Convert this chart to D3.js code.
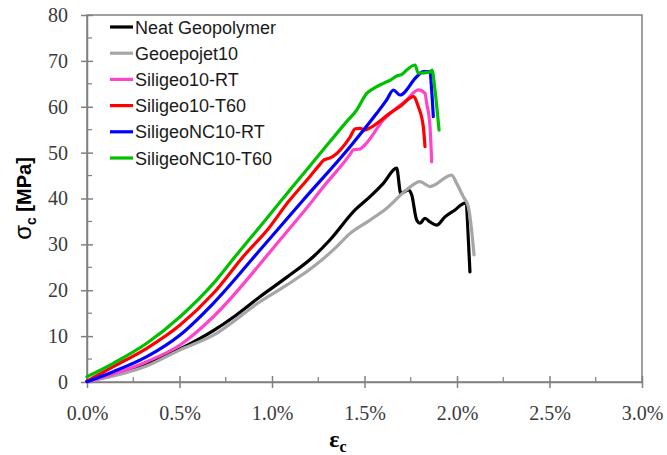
<!DOCTYPE html>
<html>
<head>
<meta charset="utf-8">
<script src="https://cdn.jsdelivr.net/npm/d3@7"></script>
<style>
  body { margin:0; background:#fff; }
  svg { display:block; }
</style>
</head>
<body>
<div id="chart"></div>
<script>
// strain in %, stress in MPa
var neatStrain = [0,0.142,0.323,0.503,0.683,0.80,0.935,1.079,1.223,1.314,1.449,1.530,1.602,1.674,1.696,1.737,1.755,1.782,1.800,1.827,1.854,1.890,1.935,1.989,2.043,2.070];
var neatStress = [0.2,1.5,3.9,7.2,11.2,14.4,18.6,22.8,27.3,31.0,37.5,40.4,43.3,46.6,41.1,41.9,40.8,35.3,34.6,35.7,34.9,34.2,36.0,37.5,39.0,24.0];

var geoStrain = [0,0.142,0.323,0.503,0.683,0.935,1.079,1.223,1.350,1.422,1.530,1.620,1.728,1.800,1.854,1.971,1.998,2.034,2.061,2.079,2.092];
var geoStress = [0.07,1.3,3.5,7.0,10.2,17.5,21.1,25.1,29.5,32.4,35.3,37.9,41.9,43.7,42.6,45.1,43.3,40.4,38.2,33.1,27.7];

var sRtStrain = [0,0.142,0.323,0.503,0.683,0.998,1.079,1.223,1.277,1.420,1.439,1.476,1.500,1.602,1.728,1.791,1.827,1.836,1.854,1.863];
var sRtStress = [0.07,1.74,4.43,8.07,14.23,28.77,32.7,39.7,42.5,49.5,50.6,50.8,51.6,57.1,61.5,63.7,62.9,60.8,55.7,48.0];

var sT60Strain = [0,0.142,0.323,0.503,0.683,0.854,0.978,1.083,1.205,1.262,1.277,1.310,1.330,1.422,1.450,1.476,1.500,1.530,1.638,1.700,1.764,1.791,1.818,1.827];
var sT60Stress = [0.2,3.34,7.35,12.43,19.34,27.8,33.3,39.0,44.8,47.6,48.3,48.8,49.2,53.4,55.2,55.3,54.9,55.4,58.6,60.3,62.2,60.0,55.6,51.3];

var ncRtStrain = [0,0.142,0.323,0.503,0.683,0.935,1.169,1.422,1.566,1.620,1.656,1.692,1.782,1.818,1.854,1.863,1.872];
var ncRtStress = [0.07,2.25,5.52,10.25,17.16,28.77,39.67,51.29,58.57,61.5,63.65,62.56,66.55,67.64,67.64,63.65,57.83];

var ncT60Strain = [0,0.142,0.323,0.503,0.683,0.80,0.95,1.10,1.25,1.40,1.458,1.512,1.550,1.602,1.640,1.674,1.700,1.728,1.773,1.791,1.854,1.865,1.881,1.903];
var ncT60Stress = [1.16,4.08,8.44,14.23,21.5,27.3,34.6,42.0,49.3,56.6,59.3,62.9,64.0,65.1,65.8,66.7,67.0,68.0,69.1,67.3,67.6,68.0,63.6,54.9];

var seriesNames = ["Neat Geopolymer","Geoepojet10","Siligeo10-RT","Siligeo10-T60","SiligeoNC10-RT","SiligeoNC10-T60"];
var seriesColors = ["#000000","#a6a6a6","#ff44cc","#ff0000","#0000ff","#00c000"];
var xTicks = [0,0.5,1.0,1.5,2.0,2.5,3.0];
var yTicks = [0,10,20,30,40,50,60,70,80];

var series = [
  {x:neatStrain, y:neatStress},
  {x:geoStrain, y:geoStress},
  {x:sRtStrain, y:sRtStress},
  {x:sT60Strain, y:sT60Stress},
  {x:ncRtStrain, y:ncRtStress},
  {x:ncT60Strain, y:ncT60Stress}
];

var W = 667, H = 455;
var pLeft = 87, pRight = 642, pTop = 15, pBottom = 382;
var axisCol = "#808080";

var svg = d3.select("#chart").append("svg")
    .attr("width", W)
    .attr("height", H);

var x = d3.scaleLinear().domain([0,3]).range([pLeft,pRight]);
var y = d3.scaleLinear().domain([0,80]).range([pBottom,pTop]);

// frame
svg.append("rect")
    .attr("x", pLeft).attr("y", pTop)
    .attr("width", pRight-pLeft).attr("height", pBottom-pTop)
    .attr("fill","none").attr("stroke",axisCol).attr("stroke-width",1.5);

// minor ticks (inside)
var g = svg.append("g");
d3.range(5,80,10).forEach(function(v){
  g.append("line").attr("x1",pLeft).attr("x2",pLeft+5)
    .attr("y1",y(v)).attr("y2",y(v)).attr("stroke",axisCol).attr("stroke-width",1.2);
});
d3.range(0.25,3,0.5).forEach(function(v){
  g.append("line").attr("x1",x(v)).attr("x2",x(v))
    .attr("y1",pBottom).attr("y2",pBottom-5).attr("stroke",axisCol).attr("stroke-width",1.2);
});

// major axes with crossing ticks
var yAxis = svg.append("g")
    .attr("transform","translate(" + pLeft + ",0)")
    .call(d3.axisLeft(y).tickValues(yTicks).tickSizeInner(6).tickSizeOuter(0).tickPadding(13));
yAxis.selectAll(".tick line").attr("x2",6).attr("x1",-6);
var xAxis = svg.append("g")
    .attr("transform","translate(0," + pBottom + ")")
    .call(d3.axisBottom(x).tickValues(xTicks).tickFormat(function(d){return d3.format(".1f")(d) + "%";})
          .tickSizeInner(6).tickSizeOuter(0).tickPadding(18));
xAxis.selectAll(".tick line").attr("y1",-6).attr("y2",6);

[yAxis, xAxis].forEach(function(a){
  a.select(".domain").attr("stroke",axisCol).attr("stroke-width",1.5);
  a.selectAll(".tick line").attr("stroke",axisCol).attr("stroke-width",1.5);
  a.selectAll(".tick text")
    .attr("font-family","'Liberation Serif','Times New Roman',serif")
    .attr("font-size",20).attr("fill","#3a3a3a");
});

// curves
var line = d3.line()
    .x(function(d){return x(d[0]);})
    .y(function(d){return y(d[1]);})
    .curve(d3.curveMonotoneX);

series.forEach(function(s,i){
  var pts = s.x.map(function(v,k){return [v, s.y[k]];});
  svg.append("path")
    .datum(pts)
    .attr("d", line)
    .attr("fill","none")
    .attr("stroke", seriesColors[i])
    .attr("stroke-width",3.2)
    .attr("stroke-linejoin","round")
    .attr("stroke-linecap","round");
});

// legend
var leg = svg.append("g");
seriesNames.forEach(function(n,i){
  var ly = 27 + i*26.2;
  leg.append("line").attr("x1",110).attr("x2",133).attr("y1",ly).attr("y2",ly)
    .attr("stroke",seriesColors[i]).attr("stroke-width",3.2);
  leg.append("text").attr("x",135).attr("y",ly+6.5)
    .attr("font-family","'Liberation Sans',Arial,sans-serif")
    .attr("font-size",18).attr("fill","#1a1a1a").text(n);
});

// axis titles
var yl = svg.append("text")
    .attr("transform","translate(31," + ((pTop+pBottom)/2) + ") rotate(-90)")
    .attr("text-anchor","middle")
    .attr("font-family","'Liberation Sans',Arial,sans-serif")
    .attr("font-size",20).attr("font-weight","bold").attr("fill","#000");
yl.append("tspan").attr("font-weight","normal").attr("font-size",24).text("σ");
yl.append("tspan").attr("font-size",14).attr("dy",5).text("c");
yl.append("tspan").attr("dy",-5).text(" [MPa]");

var xl = svg.append("text")
    .attr("x",338).attr("y",447)
    .attr("text-anchor","middle")
    .attr("font-family","'Liberation Serif','Times New Roman',serif")
    .attr("font-size",24).attr("font-weight","bold").attr("fill","#000");
xl.append("tspan").text("ε");
xl.append("tspan").attr("font-size",16).attr("dy",5).text("c");
</script>
</body>
</html>
